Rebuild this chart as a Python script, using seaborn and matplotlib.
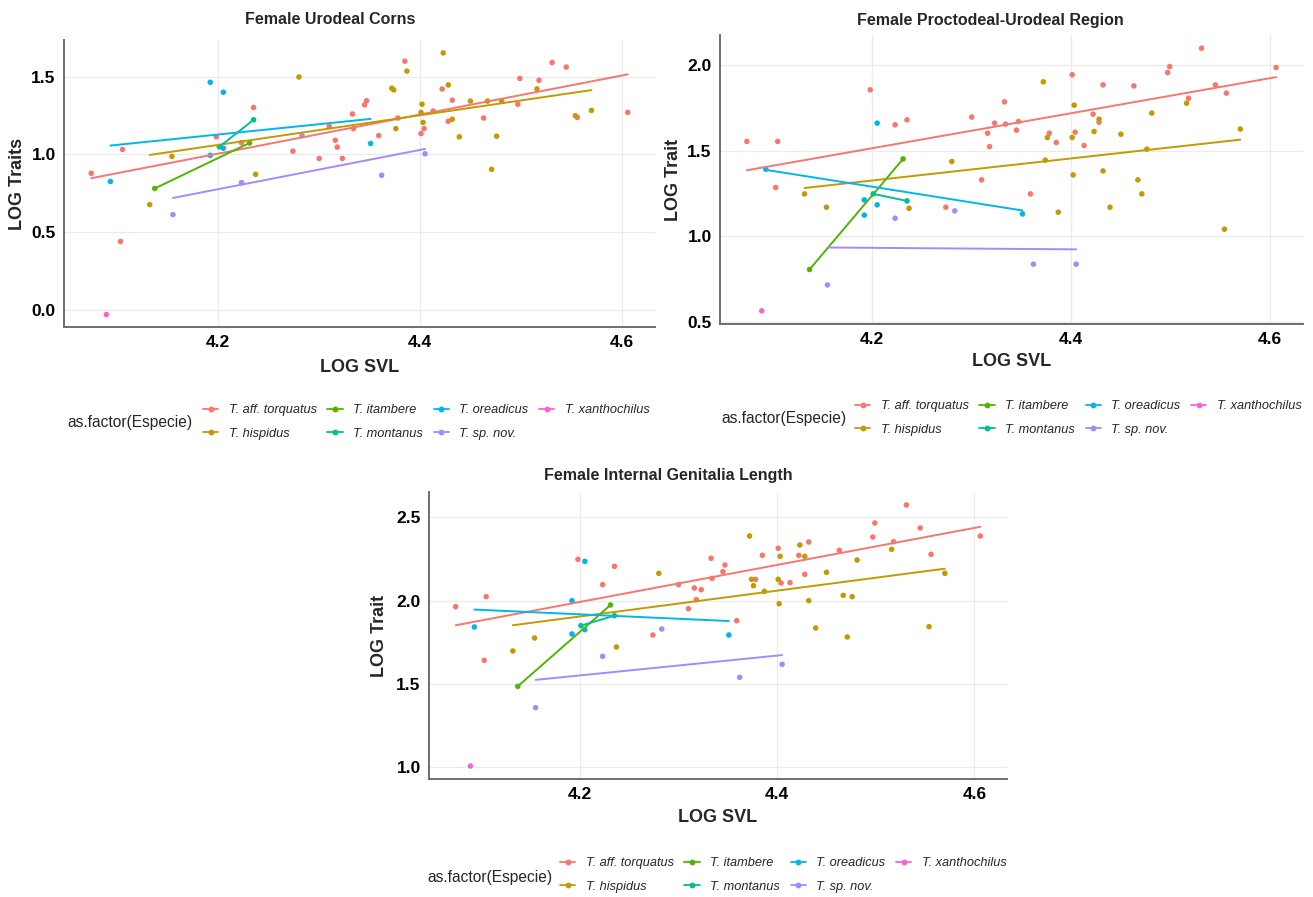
import numpy as np
import pandas as pd
import matplotlib
matplotlib.use("Agg")
import matplotlib.pyplot as plt
from matplotlib.lines import Line2D
import seaborn as sns

# ---- data: log SVL and log trait values per female, by species ----
species = ["T. aff. torquatus", "T. hispidus", "T. itambere", "T. montanus",
           "T. oreadicus", "T. sp. nov.", "T. xanthochilus"]
colors = ["#F8766D", "#C49A00", "#53B400", "#00C094", "#00B6EB", "#A58AFF", "#FB61D7"]

svl_torquatus = [4.074, 4.103, 4.105, 4.198, 4.223, 4.235, 4.274, 4.300, 4.310, 4.316, 4.318,
                 4.323, 4.333, 4.334, 4.345, 4.347, 4.359, 4.378, 4.385, 4.401, 4.404, 4.413,
                 4.422, 4.428, 4.432, 4.463, 4.497, 4.499, 4.518, 4.531, 4.545, 4.556, 4.606]
uro_torquatus = [0.879, 0.440, 1.032, 1.113, 1.075, 1.302, 1.021, 0.974, 1.181, 1.091, 1.047,
                 0.974, 1.260, 1.166, 1.319, 1.345, 1.121, 1.234, 1.600, 1.134, 1.166, 1.279,
                 1.421, 1.213, 1.349, 1.234, 1.323, 1.489, 1.477, 1.591, 1.562, 1.238, 1.270]
pu_torquatus = [1.553, 1.284, 1.553, 1.854, 1.650, 1.679, 1.169, 1.695, 1.329, 1.601, 1.523,
                1.660, 1.784, 1.654, 1.619, 1.669, 1.247, 1.601, 1.547, 1.942, 1.607, 1.529,
                1.712, 1.665, 1.883, 1.877, 1.955, 1.990, 1.805, 2.097, 1.883, 1.835, 1.984]
ig_torquatus = [1.964, 1.642, 2.024, 2.248, 2.096, 2.206, 1.794, 2.096, 1.952, 2.076, 2.006,
                2.066, 2.254, 2.134, 2.174, 2.214, 1.880, 2.128, 2.272, 2.314, 2.106, 2.108,
                2.272, 2.158, 2.352, 2.302, 2.382, 2.466, 2.354, 2.574, 2.436, 2.278, 2.388]

svl_hispidus = [4.132, 4.154, 4.237, 4.280, 4.372, 4.374, 4.376, 4.387, 4.401, 4.402, 4.403,
                4.423, 4.428, 4.432, 4.439, 4.450, 4.467, 4.471, 4.476, 4.481, 4.516, 4.554, 4.570]
uro_hispidus = [0.677, 0.987, 0.872, 1.498, 1.426, 1.415, 1.166, 1.536, 1.270, 1.323, 1.206,
                1.653, 1.447, 1.226, 1.113, 1.343, 1.343, 0.904, 1.117, 1.343, 1.421, 1.249, 1.283]
pu_hispidus = [1.247, 1.169, 1.163, 1.436, 1.901, 1.444, 1.576, 1.140, 1.576, 1.358, 1.765,
               1.611, 1.683, 1.381, 1.169, 1.595, 1.329, 1.247, 1.508, 1.718, 1.776, 1.041, 1.625]
ig_hispidus = [1.698, 1.776, 1.722, 2.164, 2.388, 2.128, 2.090, 2.056, 2.128, 1.982, 2.266,
               2.334, 2.266, 2.000, 1.836, 2.170, 2.032, 1.782, 2.024, 2.244, 2.308, 1.844, 2.164]

svl_itambere = [4.137, 4.231]
uro_itambere = [0.781, 1.074]
pu_itambere = [0.806, 1.451]
ig_itambere = [1.486, 1.974]

svl_montanus = [4.201, 4.235]
uro_montanus = [1.049, 1.223]
pu_montanus = [1.247, 1.206]
ig_montanus = [1.850, 1.910]

svl_oreadicus = [4.093, 4.192, 4.192, 4.205, 4.205, 4.351]
uro_oreadicus = [0.826, 1.464, 0.994, 1.400, 1.040, 1.070]
pu_oreadicus = [1.391, 1.212, 1.123, 1.660, 1.183, 1.130]
ig_oreadicus = [1.842, 2.000, 1.800, 2.236, 1.826, 1.794]

svl_spnov = [4.155, 4.223, 4.283, 4.362, 4.405]
uro_spnov = [0.613, 0.819, 1.121, 0.866, 1.004]
pu_spnov = [0.716, 1.105, 1.148, 0.837, 0.837]
ig_spnov = [1.358, 1.666, 1.830, 1.540, 1.618]

svl_xanthochilus = [4.089]
uro_xanthochilus = [-0.030]
pu_xanthochilus = [0.565]
ig_xanthochilus = [1.008]

x_ticks = [4.2, 4.4, 4.6]

# ---- assemble long table ----
groups = [
    (svl_torquatus, uro_torquatus, pu_torquatus, ig_torquatus),
    (svl_hispidus, uro_hispidus, pu_hispidus, ig_hispidus),
    (svl_itambere, uro_itambere, pu_itambere, ig_itambere),
    (svl_montanus, uro_montanus, pu_montanus, ig_montanus),
    (svl_oreadicus, uro_oreadicus, pu_oreadicus, ig_oreadicus),
    (svl_spnov, uro_spnov, pu_spnov, ig_spnov),
    (svl_xanthochilus, uro_xanthochilus, pu_xanthochilus, ig_xanthochilus),
]
frames = []
for name, (svl, uro, pu, ig) in zip(species, groups):
    frames.append(pd.DataFrame({"Especie": name, "svl": svl, "uro": uro, "pu": pu, "ig": ig}))
df = pd.concat(frames, ignore_index=True)

W, H = 1313, 897
sns.set_theme(style="white")
plt.rcParams["font.family"] = ["Liberation Sans", "DejaVu Sans"]

fig = plt.figure(figsize=(W / 100, H / 100), dpi=100)


def px_axes(left, top, right, bottom):
    return fig.add_axes([left / W, 1 - bottom / H, (right - left) / W, (bottom - top) / H])


def draw_panel(ax, col, ylabel, ylim, yticks, ylab_px, xlab_px):
    sns.scatterplot(data=df, x="svl", y=col, hue="Especie", hue_order=species,
                    palette=colors, s=16, linewidth=0, legend=False, ax=ax, zorder=3)
    for name, c in zip(species, colors):
        sub = df[df["Especie"] == name]
        if len(sub) >= 2:
            sns.regplot(data=sub, x="svl", y=col, scatter=False, ci=None, truncate=True,
                        color=c, line_kws=dict(lw=1.4, zorder=4), ax=ax)
    ax.set_xlim(4.047, 4.633)
    ax.set_ylim(*ylim)
    ax.set_xticks(x_ticks)
    ax.set_xticklabels([f"{v:.1f}" for v in x_ticks])
    ax.set_yticks(yticks)
    ax.set_yticklabels([f"{v:.1f}" for v in yticks])
    ax.grid(True, color="#EBEBEB", lw=0.9)
    ax.set_axisbelow(True)
    for s in ["top", "right"]:
        ax.spines[s].set_visible(False)
    for s in ["left", "bottom"]:
        ax.spines[s].set_color("#6E6E6E")
        ax.spines[s].set_linewidth(1.4)
    ax.tick_params(axis="both", which="major", length=3, width=1.0, color="#6E6E6E",
                   labelsize=12.5, pad=3, labelcolor="black")
    for lab in ax.get_xticklabels() + ax.get_yticklabels():
        lab.set_fontweight("bold")
    ax.set_xlabel("LOG SVL", fontsize=13, fontweight="bold")
    ax.set_ylabel(ylabel, fontsize=13, fontweight="bold")
    # place axis titles by figure pixel position
    ax.xaxis.label.set_va("center")
    ax.yaxis.label.set_va("center")
    bb = ax.get_position()
    ax.yaxis.set_label_coords((ylab_px / W - bb.x0) / bb.width, 0.5)
    ax.xaxis.set_label_coords(0.5, ((1 - xlab_px / H) - bb.y0) / bb.height)
    return ax


def add_legend(key_x, row1_y, row2_y, title_right, title_y):
    handles = [Line2D([], [], color=c, lw=1.3, marker="o", markersize=3.2) for c in colors]
    fig.legend(handles, species, ncol=4, loc="center left",
               bbox_to_anchor=(key_x / W, 1 - ((row1_y + row2_y) / 2) / H),
               frameon=False, prop=dict(style="italic", size=9.2),
               handlelength=1.2, handletextpad=0.8, columnspacing=0.85,
               labelspacing=0.9, borderpad=0, borderaxespad=0)
    fig.text(title_right / W, 1 - title_y / H, "as.factor(Especie)", ha="right",
             va="center", fontsize=11.2)


# Panel 1: urodeal corns
ax1 = px_axes(64, 40, 655, 327)
draw_panel(ax1, "uro", "LOG Traits", (-0.11, 1.736), [0.0, 0.5, 1.0, 1.5], 18, 367)
fig.text(330 / W, 1 - 20 / H, "Female Urodeal Corns", ha="center", va="center",
         fontsize=11.5, fontweight="bold")
add_legend(203, 410, 434, 192, 422)

# Panel 2: proctodeal-urodeal region
ax2 = px_axes(720, 35, 1303, 324)
draw_panel(ax2, "pu", "LOG Trait", (0.488, 2.174), [0.5, 1.0, 1.5, 2.0], 673, 362)
fig.text(990 / W, 1 - 20 / H, "Female Proctodeal-Urodeal Region", ha="center", va="center",
         fontsize=11.5, fontweight="bold")
add_legend(855, 406, 430, 847, 418)

# Panel 3: internal genitalia length
ax3 = px_axes(429, 492, 1007, 779)
draw_panel(ax3, "ig", "LOG Trait", (0.93, 2.652), [1.0, 1.5, 2.0, 2.5], 380, 817)
fig.text(668 / W, 1 - 475 / H, "Female Internal Genitalia Length", ha="center", va="center",
         fontsize=11.5, fontweight="bold")
add_legend(560, 863, 887, 552, 877)

fig.savefig("out.png", dpi=100, facecolor="white")
